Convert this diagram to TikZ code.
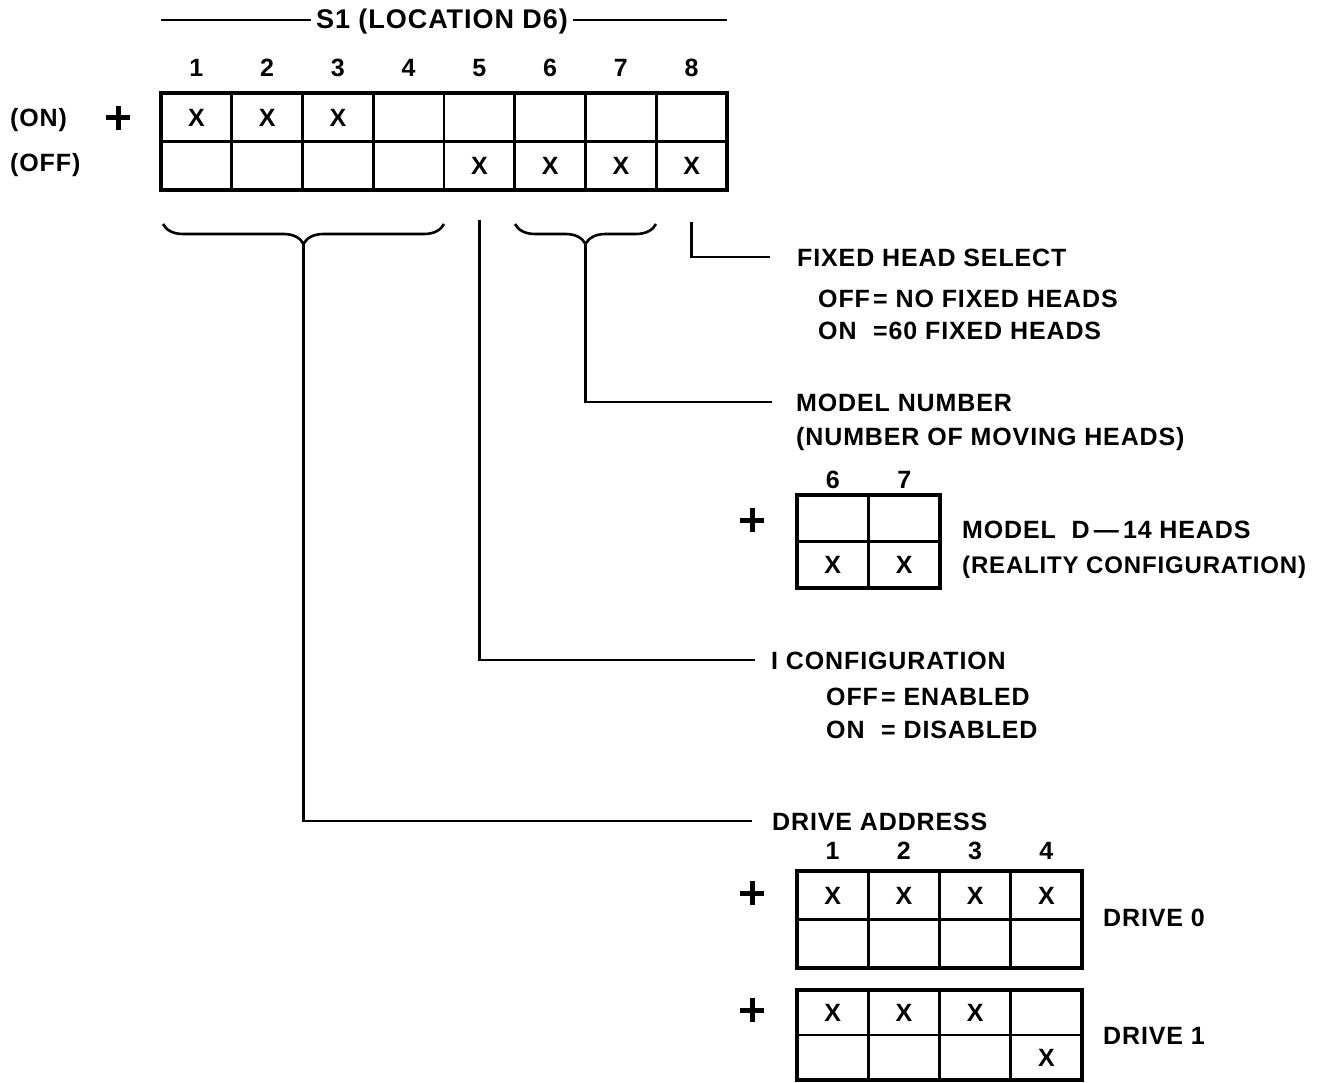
\documentclass[tikz,border=0pt]{standalone}
\usepackage{fontspec}
\setmainfont{Liberation Sans}[LetterSpace=3.5]
\usetikzlibrary{decorations.pathreplacing}
\begin{document}
\begin{tikzpicture}[x=1pt,y=-1pt,
  txt/.style={font=\fontsize{25}{30}\selectfont\bfseries, inner sep=0pt, text height=18pt, text depth=0pt},
  lbl/.style={txt, anchor=west},
  cell/.style={draw, line width=2.6pt, inner sep=0pt, outer sep=0pt},
  frame/.style={line width=3.6pt},
  lead/.style={line width=2.6pt},
  plussign/.style={minimum size=24pt, inner sep=0pt, outer sep=0pt,
    path picture={\draw[line width=5pt] (path picture bounding box.north) -- (path picture bounding box.south)
      (path picture bounding box.west) -- (path picture bounding box.east);}},
  bracestyle/.style={line width=2.6pt, decorate, decoration={brace, amplitude=20pt}}]
\useasboundingbox (0,0) rectangle (1330,1083);

% ---------- main switch S1 ----------
\node[txt, font=\fontsize{27}{30}\selectfont\bfseries] (title) at (442,20) {S1 (LOCATION D6)};
\coordinate (tl) at (161,20);
\coordinate (tr) at (727,20);
\draw[lead] (tl) -- ([xshift=-5pt]title.west);
\draw[lead] ([xshift=5pt]title.east) -- (tr);

\foreach \c in {1,...,8}{
  \node[txt] (n-\c) at ({161+35.375+(\c-1)*70.75},68) {\c};
  \foreach \r in {1,2}
    \node[cell, minimum width=70.75pt, minimum height=48.5pt] (m-\r-\c) at ({161+35.375+(\c-1)*70.75},{93+24.25+(\r-1)*48.5}) {};
}
\draw[frame] (m-1-1.north west) rectangle (m-2-8.south east);
\draw[frame] (m-1-1.south west) -- (m-1-8.south east);
\foreach \r/\c in {1/1,1/2,1/3,2/5,2/6,2/7,2/8}
  \node[txt] (xm-\r-\c) at (m-\r-\c) {X};

\node[lbl] (on) at (10,118) {(ON)};
\node[lbl] (off) at (10,163) {(OFF)};
\node[plussign] (p0) at (118,118) {};

% braces
\draw[bracestyle] (444,224) -- (163,224);
\draw[bracestyle] (656,224) -- (515,224);
\coordinate (b1) at (303.5,244);
\coordinate (b2) at (585.5,244);

% ---------- labels ----------
\node[lbl] (fhs) at (797,257) {FIXED HEAD SELECT};
\node[lbl] (fhs1) at (818,298) {\makebox[55pt][l]{OFF}= NO FIXED HEADS};
\node[lbl] (fhs2) at (818,330) {\makebox[55pt][l]{ON}=60 FIXED HEADS};

\node[lbl] (model) at (796,402) {MODEL NUMBER};
\node[lbl] (model2) at (796,436) {(NUMBER OF MOVING HEADS)};

\node[lbl] (cfg) at (771,660) {I CONFIGURATION};
\node[lbl] (cfg1) at (826,696) {\makebox[55pt][l]{OFF}= ENABLED};
\node[lbl] (cfg2) at (826,729) {\makebox[55pt][l]{ON}= DISABLED};

\node[lbl] (drv) at (772,821) {DRIVE ADDRESS};

% ---------- leaders ----------
\draw[lead, shorten <=32pt, shorten >=27pt] (m-2-8.south) |- (fhs.west);
\draw[lead, shorten >=24pt] (b2) |- (model.west);
\draw[lead, shorten <=30pt, shorten >=16pt] (m-2-5.south) |- (cfg.west);
\draw[lead, shorten >=20pt] (b1) |- (drv.west);

% ---------- model table ----------
\foreach \c/\t in {1/6,2/7}{
  \node[txt] (sn-\c) at ({797+35.75+(\c-1)*71.5},479) {\t};
  \foreach \r in {1,2}
    \node[cell, minimum width=71.5pt, minimum height=46.5pt] (s-\r-\c) at ({797+35.75+(\c-1)*71.5},{495+23.25+(\r-1)*46.5}) {};
}
\draw[frame] (s-1-1.north west) rectangle (s-2-2.south east);
\node[txt] (xs-2-1) at (s-2-1) {X};
\node[txt] (xs-2-2) at (s-2-2) {X};
\node[plussign] (p1) at (752,520) {};
\node[lbl] (md1) at (962,529) {MODEL\ \ D\,—\,14 HEADS};
\node[lbl, font=\fontsize{24}{30}\selectfont\bfseries] (md2) at (962,564) {(REALITY CONFIGURATION)};

% ---------- drive tables ----------
\foreach \c in {1,...,4}{
  \node[txt] (dn-\c) at ({797+35.625+(\c-1)*71.25},850) {\c};
  \foreach \r in {1,2}{
    \node[cell, minimum width=71.25pt, minimum height=48.5pt] (d0-\r-\c) at ({797+35.625+(\c-1)*71.25},{871+24.25+(\r-1)*48.5}) {};
    \node[cell, minimum width=71.25pt, minimum height=45pt] (d1-\r-\c) at ({797+35.625+(\c-1)*71.25},{990+22.5+(\r-1)*45}) {};
  }
}
\draw[frame] (d0-1-1.north west) rectangle (d0-2-4.south east);
\draw[frame] (d1-1-1.north west) rectangle (d1-2-4.south east);
\foreach \c in {1,...,4}
  \node[txt] (xd0-\c) at (d0-1-\c) {X};
\foreach \r/\c in {1/1,1/2,1/3,2/4}
  \node[txt] (xd1-\r-\c) at (d1-\r-\c) {X};
\node[plussign] (p2) at (752,893) {};
\node[plussign] (p3) at (752,1010) {};
\node[lbl] (dr0) at (1103,917) {DRIVE 0};
\node[lbl] (dr1) at (1103,1035) {DRIVE 1};
\end{tikzpicture}
\end{document}
